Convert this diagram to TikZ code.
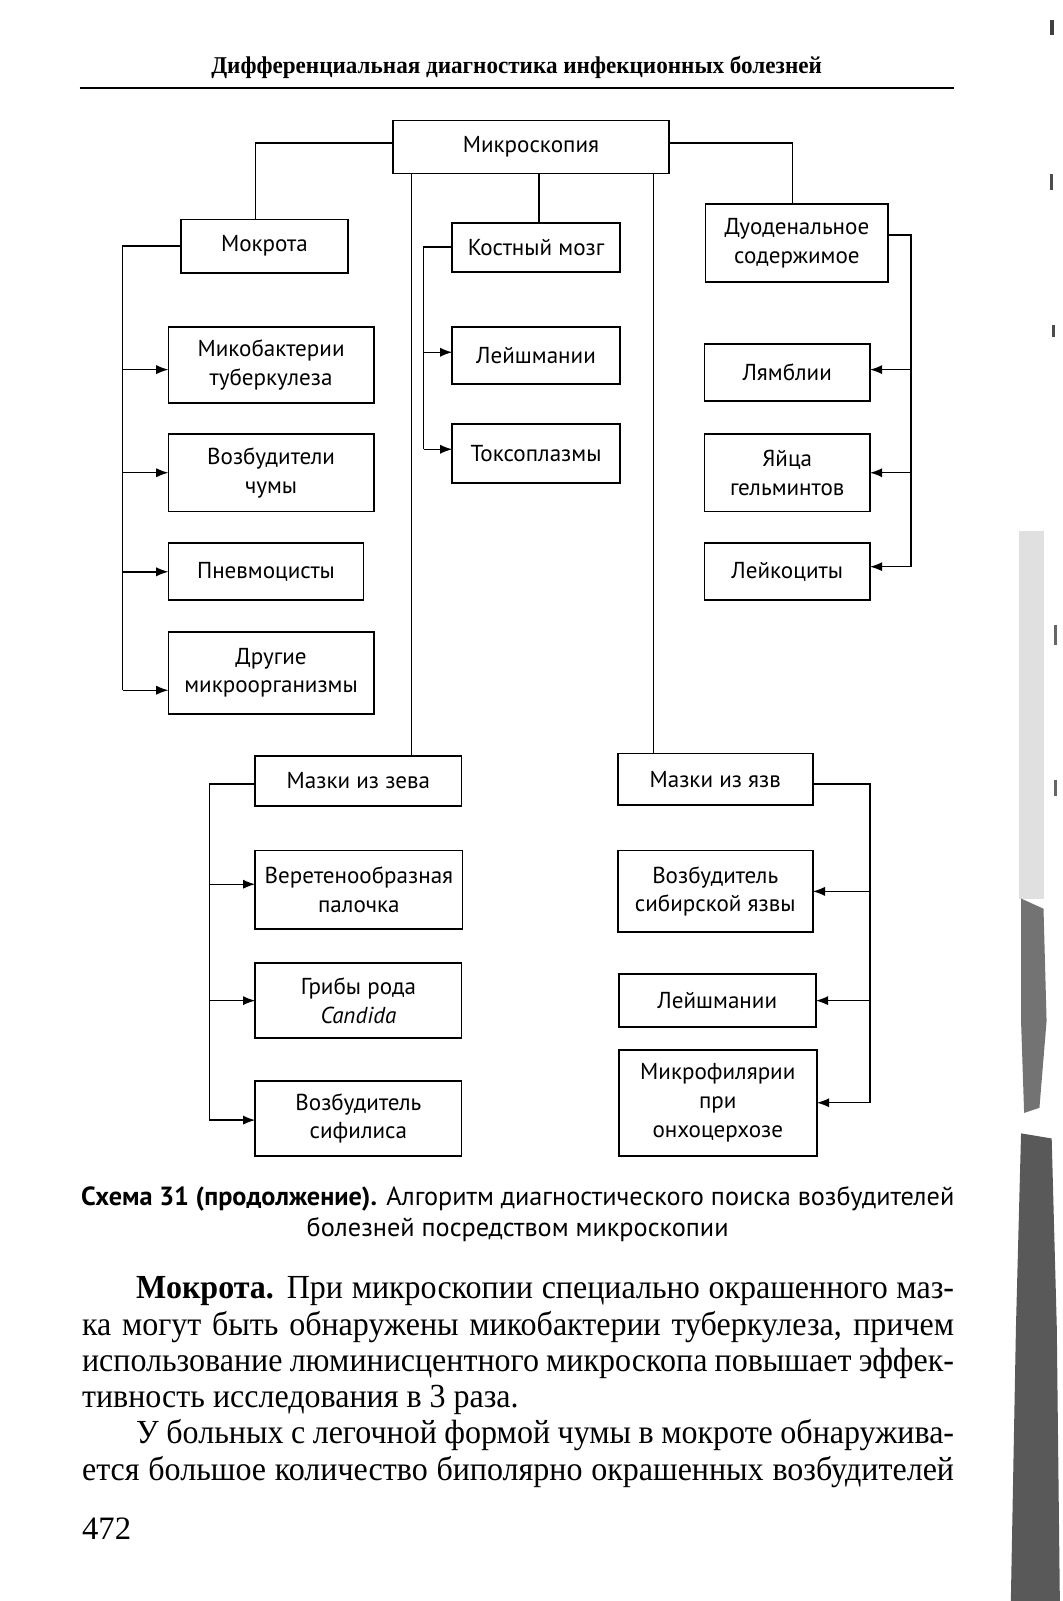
\documentclass[tikz,border=0pt]{standalone}
\usepackage{fontspec}
\setmainfont{Liberation Serif}
\newfontfamily\bodyfont[FakeStretch=0.95]{Liberation Serif}
\newfontfamily\hdrfont[FakeStretch=0.96]{Liberation Serif}
\newfontfamily\boxfont{PT Sans}
\newfontfamily\capfont{PT Sans}
\usetikzlibrary{arrows.meta}
\begin{document}
\begin{tikzpicture}[x=0.5pt,y=-0.5pt,
  box/.style={draw, line width=0.9pt, inner sep=0pt, outer sep=0pt, align=center,
    font=\boxfont\fontsize{11.3}{14}\selectfont},
  conn/.style={line width=0.7pt},
  arr/.style={conn, -{Latex[length=6pt,width=4.5pt]}},
  body/.style={anchor=base west, inner sep=0pt, font=\bodyfont\fontsize{16.5}{18}\selectfont},
  capt/.style={anchor=base, inner sep=0pt, font=\capfont\fontsize{12.85}{15}\selectfont},
]
\useasboundingbox[fill=white] (0,0) rectangle (1041,1568);

% header
\node[anchor=base, inner sep=0pt, font=\hdrfont\bfseries\fontsize{11.8}{14}\selectfont] (hdr) at (506,72)
  {Дифференциальная диагностика инфекционных болезней};
\draw[line width=1pt] (78,86) -- (934,86);

% boxes
\node[box, minimum width=135pt, minimum height=26pt] (micro) at (520,144) {Микроскопия};
\node[box, minimum width=82pt, minimum height=26pt] (mokrota) at (259,241) {Мокрота};
\node[box, minimum width=82pt, minimum height=24pt] (kostny) at (525,242) {Костный мозг};
\node[box, minimum width=89.5pt, minimum height=38pt] (duod) at (780.5,238) {Дуоденальное\\содержимое};

\node[box, minimum width=100.5pt, minimum height=37.5pt] (mb) at (265.5,357.5) {Микобактерии\\туберкулеза};
\node[box, minimum width=100.5pt, minimum height=38pt] (chuma) at (265.5,463) {Возбудители\\чумы};
\node[box, minimum width=95.5pt, minimum height=28pt] (pnevmo) at (260.5,560) {Пневмоцисты};
\node[box, minimum width=100.5pt, minimum height=40pt] (drugie) at (265.5,659) {Другие\\микроорганизмы};

\node[box, minimum width=82pt, minimum height=28pt] (leish1) at (525,348) {Лейшмании};
\node[box, minimum width=82pt, minimum height=29pt] (tokso) at (525,444) {Токсоплазмы};

\node[box, minimum width=81pt, minimum height=28pt] (lyambl) at (771,365) {Лямблии};
\node[box, minimum width=81pt, minimum height=38pt] (yaica) at (771,463) {Яйца\\гельминтов};
\node[box, minimum width=81pt, minimum height=28pt] (leik) at (771,560) {Лейкоциты};

\node[box, minimum width=101pt, minimum height=24.5pt] (zev) at (351,764.5) {Мазки из зева};
\node[box, minimum width=95.5pt, minimum height=25pt] (yazv) at (700.5,763) {Мазки из язв};

\node[box, minimum width=101.5pt, minimum height=38.5pt] (veret) at (351.5,871.5) {Веретенообразная\\палочка};
\node[box, minimum width=101pt, minimum height=37pt] (griby) at (351,980) {Грибы рода\\\textit{Candida}};
\node[box, minimum width=101pt, minimum height=36.5pt] (sifilis) at (351,1095.5) {Возбудитель\\сифилиса};

\node[box, minimum width=95.5pt, minimum height=40pt] (sibir) at (700.5,873) {Возбудитель\\сибирской язвы};
\node[box, minimum width=96.5pt, minimum height=26pt] (leish2) at (702.5,980) {Лейшмании};
\node[box, minimum width=97pt, minimum height=52pt] (mikrofil) at (703,1080) {Микрофилярии\\при\\онхоцерхозе};

% connectors from Микроскопия
\draw[conn] ([yshift=2pt]micro.west) -| ([xshift=-4.5pt]mokrota.north);
\draw[conn] ([yshift=2pt]micro.east) -| ([xshift=-2.25pt]duod.north);
\draw[conn] ([xshift=9pt]micro.south west) -- ([xshift=9pt]micro.south west |- zev.north);
\draw[conn] ([xshift=4pt]micro.south) -- ([xshift=4pt]micro.south |- kostny.north);
\draw[conn] ([xshift=-7.5pt]micro.south east) -- ([xshift=-7.5pt]micro.south east |- yazv.north);

% Мокрота branch
\coordinate (tM) at (120,676);
\draw[conn] (mokrota.west) -| (tM);
\draw[arr] (tM |- mb.west) ++(0,4.5) -- ([yshift=-2.25pt]mb.west);
\draw[arr] (tM |- chuma.west) -- (chuma.west);
\draw[arr] (tM |- pnevmo.west) -- (pnevmo.west);
\draw[arr] (tM) -- ([yshift=-8.5pt]drugie.west);

% Костный мозг branch
\coordinate (tK) at (415,440);
\draw[conn] (kostny.west) -| (tK);
\draw[arr] (tK |- leish1.west) ++(0,-3) -- ([yshift=1.5pt]leish1.west);
\draw[arr] (tK) -- ([yshift=2pt]tokso.west);

% Дуоденальное branch
\coordinate (tD) at (892,555);
\draw[conn] ([yshift=4pt]duod.east) -| (tD);
\draw[arr] (tD |- lyambl.east) ++(0,-3) -- ([yshift=1.5pt]lyambl.east);
\draw[arr] (tD |- yaica.east) -- (yaica.east);
\draw[arr] (tD) -- ([yshift=2.5pt]leik.east);

% Мазки из зева branch
\coordinate (tZ) at (205,1097);
\draw[conn] ([yshift=-1.75pt]zev.west) -| (tZ);
\draw[arr] (tZ |- veret.west) ++(0,-5.5) -- ([yshift=2.75pt]veret.west);
\draw[arr] (tZ |- griby.west) -- (griby.west);
\draw[arr] (tZ) -- ([yshift=-0.75pt]sifilis.west);

% Мазки из язв branch
\coordinate (tY) at (852,1080);
\draw[conn] ([yshift=-2.5pt]yazv.east) -| (tY);
\draw[arr] (tY |- sibir.east) -- (sibir.east);
\draw[arr] (tY |- leish2.east) -- (leish2.east);
\draw[arr] (tY) -- (mikrofil.east);

% caption
\node[capt] (cap1) at (507,1181) {\textbf{Схема 31 (продолжение).} Алгоритм диагностического поиска возбудителей};
\node[capt] (cap2) at (507,1211) {болезней посредством микроскопии};

% body text
\node[body] (b1) at (133,1272) {\makebox[400.5pt][s]{\textbf{Мокрота.} При микроскопии специально окрашенного маз-}};
\node[body] (b2) at (80,1308) {\makebox[427pt][s]{ка могут быть обнаружены микобактерии туберкулеза, причем}};
\node[body] (b3) at (80,1343) {\makebox[427pt][s]{использование люминисцентного микроскопа повышает эффек-}};
\node[body] (b4) at (80,1378) {тивность исследования в 3 раза.};
\node[body] (b5) at (133,1414) {\makebox[400.5pt][s]{У больных с легочной формой чумы в мокроте обнаружива-}};
\node[body] (b6) at (80,1450) {\makebox[427pt][s]{ется большое количество биполярно окрашенных возбудителей}};
\node[anchor=base west, inner sep=0pt, font=\fontsize{16}{18}\selectfont] (pg) at (80,1508) {472};

% scan edge artefact
\fill[black!75] (1028,20) rectangle (1032,34);
\fill[black!70] (1028,170) rectangle (1031,186);
\fill[black!70] (1030,318) rectangle (1033,330);
\fill[black!60] (1032,612) rectangle (1035,632);
\fill[black!60] (1032,764) rectangle (1035,780);
\fill[black!12] (998,520) rectangle (1022,880);
\fill[black!55] (1000,880) -- (1022,890) -- (1025,1000) -- (1018,1085) -- (1003,1090) -- (1000,1000) -- cycle;
\fill[black!65] (1000,1110) -- (1030,1115) -- (1035,1300) -- (1038,1568) -- (990,1568) -- (995,1300) -- cycle;
\end{tikzpicture}
\end{document}
